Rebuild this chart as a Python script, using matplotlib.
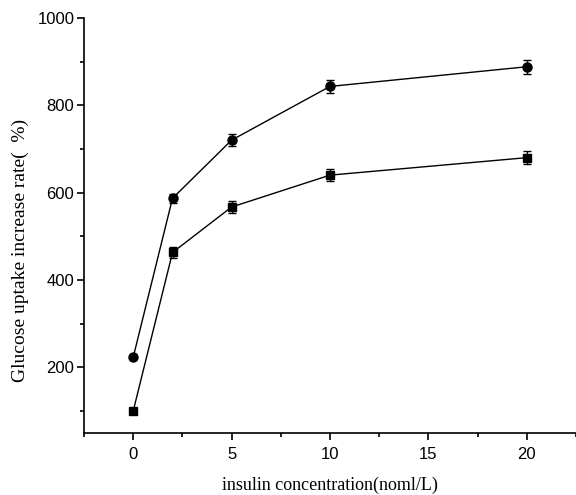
import matplotlib
matplotlib.use("Agg")
import matplotlib.pyplot as plt
from matplotlib.ticker import MultipleLocator

# insulin concentration (nmol/L) and glucose uptake increase rate (%)
concentration = [0, 2, 5, 10, 20]
uptake_circle = [223, 587, 720, 843, 888]
err_circle = [0, 10, 14, 14, 16]
uptake_square = [100, 463, 567, 640, 680]
err_square = [0, 12, 14, 13, 15]

x_ticks = [0, 5, 10, 15, 20]
y_ticks = [200, 400, 600, 800, 1000]

fig = plt.figure(figsize=(5.76, 4.95), dpi=100)
ax = fig.add_axes([0.1458, 0.1253, 0.854, 0.8387])

common = dict(color="black", linewidth=1.0, elinewidth=1.0, capsize=3,
              capthick=1.0, clip_on=False)
ax.errorbar(concentration, uptake_circle, yerr=err_circle, marker="o",
            markersize=6.5, **common)
ax.errorbar(concentration, uptake_square, yerr=err_square, marker="s",
            markersize=5.5, **common)

ax.set_xlim(-2.5, 22.5)
ax.set_ylim(50, 1000)
ax.set_xticks(x_ticks)
ax.set_yticks(y_ticks)
ax.xaxis.set_minor_locator(MultipleLocator(2.5))
ax.yaxis.set_minor_locator(MultipleLocator(100))

for side in ("top", "right"):
    ax.spines[side].set_visible(False)
for side in ("left", "bottom"):
    ax.spines[side].set_linewidth(1.2)

ax.tick_params(which="major", direction="out", length=5, width=1.2,
               labelsize=12)
ax.tick_params(axis="x", which="major", pad=5)
ax.tick_params(axis="y", which="major", pad=2)
ax.tick_params(which="minor", direction="out", length=3, width=1.2)
for lab in ax.get_xticklabels() + ax.get_yticklabels():
    lab.set_fontfamily("Liberation Sans")

ax.set_xlabel("insulin concentration(noml/L)", family="Liberation Serif",
              fontsize=13)
ax.set_ylabel("Glucose uptake increase rate(  %)", family="Liberation Serif",
              fontsize=14)
ax.xaxis.set_label_coords(0.5, -0.105)
ax.yaxis.set_label_coords(-0.112, 0.44)

fig.savefig("out.png", dpi=100)
